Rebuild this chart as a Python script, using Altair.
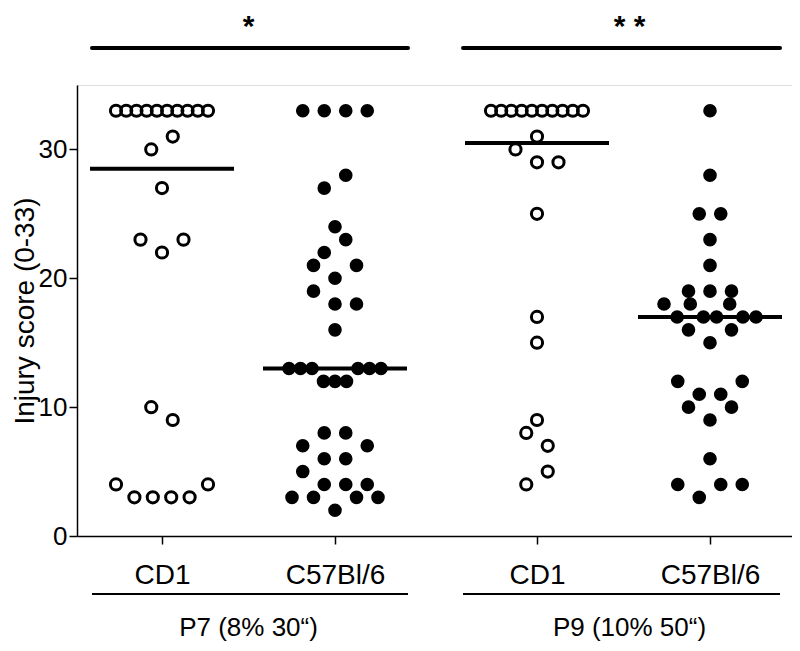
import altair as alt
import numpy as np
import pandas as pd

# ---------------- data ----------------
strains = ["CD1", "C57Bl/6", "CD1", "C57Bl/6"]
age_labels = ["P7 (8% 30“)", "P9 (10% 50“)"]
significance = ["*", "* *"]
is_filled = [False, True, False, True]

# injury scores, listed row by row (bottom to top, left to right)
p7_cd1 = [4, 3, 3, 3, 3, 4, 10, 9, 23, 22, 23, 27, 30, 31,
          33, 33, 33, 33, 33, 33, 33, 33, 33, 33]
p7_b6 = [3, 3, 2, 3, 3, 5, 4, 4, 4, 7, 6, 6, 7, 8, 8,
         13, 13, 13, 12, 12, 12, 13, 13, 13, 16, 19, 18, 18,
         21, 20, 21, 22, 23, 24, 27, 28, 33, 33, 33, 33]
p9_cd1 = [4, 5, 8, 7, 9, 15, 17, 25, 30, 29, 29, 31,
          33, 33, 33, 33, 33, 33, 33, 33, 33, 33]
p9_b6 = [4, 3, 4, 4, 6, 10, 9, 10, 12, 11, 11, 12, 16, 15, 16,
         18, 17, 18, 17, 17, 18, 17, 17, 19, 19, 19, 21, 23, 25, 25, 28, 33]
scores = [p7_cd1, p7_b6, p9_cd1, p9_b6]

# ---------------- layout constants ----------------
PX_PER_UNIT = 173.0
PLOT_W, PLOT_H = 715, 451
GROUP_GAP = 202.0 / PX_PER_UNIT
centers = [1.0, 2.0, 2.0 + GROUP_GAP, 3.0 + GROUP_GAP]
X0 = 1.0 - 85.0 / PX_PER_UNIT
X1 = X0 + PLOT_W / PX_PER_UNIT
Y_MAX = 35
PX_PER_Y = PLOT_H / Y_MAX
STEP = 21.5 / PX_PER_UNIT
MAX_HALF = 46.0 / PX_PER_UNIT
MED_HALF = 72.0 / PX_PER_UNIT
FONT = "Liberation Sans, Arial, sans-serif"


def swarm(values, row_h=1.5):
    vals = np.asarray(values, float)
    order = np.argsort(vals, kind="stable")
    offs = np.zeros(len(vals))
    i = 0
    while i < len(order):
        start = vals[order[i]]
        j = i
        while j < len(order) and vals[order[j]] < start + row_h:
            j += 1
        members = sorted(order[i:j])
        n = len(members)
        sp = STEP if n < 2 or (n - 1) * STEP / 2 <= MAX_HALF else 2 * MAX_HALF / (n - 1)
        for k, m in enumerate(members):
            offs[m] = (k - (n - 1) / 2) * sp
        i = j
    return offs


rows = []
med_rows = []
for g, vals in enumerate(scores):
    offs = swarm(vals)
    for v, o in zip(vals, offs):
        rows.append({"x": centers[g] + o, "score": v, "filled": is_filled[g]})
    med_rows.append({"x": centers[g] - MED_HALF, "x2": centers[g] + MED_HALF,
                     "score": float(np.median(vals))})
pts = pd.DataFrame(rows)
med = pd.DataFrame(med_rows)

pair_lo = [centers[0] - 70 / PX_PER_UNIT, centers[2] - 74 / PX_PER_UNIT]
pair_hi = [centers[1] + 73 / PX_PER_UNIT, centers[3] + 70 / PX_PER_UNIT]
pair_mid = [(centers[0] + centers[1]) / 2, (centers[2] + centers[3]) / 2 + 6 / PX_PER_UNIT]
top_y = Y_MAX + 37 / PX_PER_Y
star_y = Y_MAX + 49.5 / PX_PER_Y
under_y = -58 / PX_PER_Y
label_y = -92 / PX_PER_Y
ann = pd.DataFrame({"x": pair_lo, "x2": pair_hi, "mid": pair_mid,
                    "stars": significance, "age": age_labels})

xscale = alt.Scale(domain=[X0, X1], nice=False, zero=False)
yscale = alt.Scale(domain=[0, Y_MAX], nice=False)

label_expr = ("datum.value < 1.5 ? 'CD1' : datum.value < 2.5 ? 'C57Bl/6' : "
              "datum.value < 3.5 ? 'CD1' : 'C57Bl/6'")

x_axis = alt.Axis(values=centers, labelExpr=label_expr, title=None, grid=False,
                  domainColor="black", domainWidth=1.5, tickColor="black",
                  tickWidth=1.5, tickSize=8, labelFontSize=28, labelFont=FONT,
                  labelColor="black", labelPadding=17)
y_axis = alt.Axis(values=[0, 10, 20, 30], title="Injury score (0-33)", grid=False,
                  domainColor="black", domainWidth=1.5, tickColor="black",
                  tickWidth=1.5, tickSize=8, labelFontSize=26, labelFont=FONT,
                  labelColor="black", labelPadding=2, titleFontSize=28,
                  titleFont=FONT, titleFontWeight="normal", titleColor="black",
                  titlePadding=-1)

base = alt.Chart(pts)
open_pts = base.transform_filter("!datum.filled").mark_point(
    shape="circle", filled=False, stroke="black", strokeWidth=3, size=125, opacity=1
).encode(x=alt.X("x:Q", scale=xscale, axis=x_axis),
         y=alt.Y("score:Q", scale=yscale, axis=y_axis))
full_pts = base.transform_filter("datum.filled").mark_point(
    shape="circle", filled=True, color="black", size=185, opacity=1
).encode(x=alt.X("x:Q", scale=xscale), y=alt.Y("score:Q", scale=yscale))

medians = alt.Chart(med).mark_rule(color="black", strokeWidth=4).encode(
    x=alt.X("x:Q", scale=xscale), x2="x2:Q", y=alt.Y("score:Q", scale=yscale))

top_lines = alt.Chart(ann).mark_rule(color="black", strokeWidth=4, strokeCap="round").encode(
    x=alt.X("x:Q", scale=xscale), x2="x2:Q", y=alt.Y("yy:Q", scale=yscale)
).transform_calculate(yy=str(top_y))
star_text = alt.Chart(ann).mark_text(fontSize=30, fontWeight="bold", font=FONT,
                                     baseline="alphabetic", color="black").encode(
    x=alt.X("mid:Q", scale=xscale), y=alt.Y("yy:Q", scale=yscale), text="stars:N"
).transform_calculate(yy=str(star_y))
under_lines = alt.Chart(ann).mark_rule(color="black", strokeWidth=2).encode(
    x=alt.X("x:Q", scale=xscale), x2="x2:Q", y=alt.Y("yy:Q", scale=yscale)
).transform_calculate(yy=str(under_y))
age_text = alt.Chart(ann).mark_text(fontSize=26, font=FONT, baseline="middle",
                                    color="black").encode(
    x=alt.X("mid:Q", scale=xscale), y=alt.Y("yy:Q", scale=yscale), text="age:N"
).transform_calculate(yy=str(label_y))

chart = alt.layer(medians, open_pts, full_pts, top_lines, star_text,
                  under_lines, age_text).properties(
    width=PLOT_W, height=PLOT_H,
    autosize=alt.AutoSizeParams(type="none"),
    padding={"left": 69, "top": 77, "right": 0, "bottom": 106},
).configure_view(stroke=None).configure(background="white")

chart.save("out.html", embed_options={"renderer": "svg", "actions": False})
